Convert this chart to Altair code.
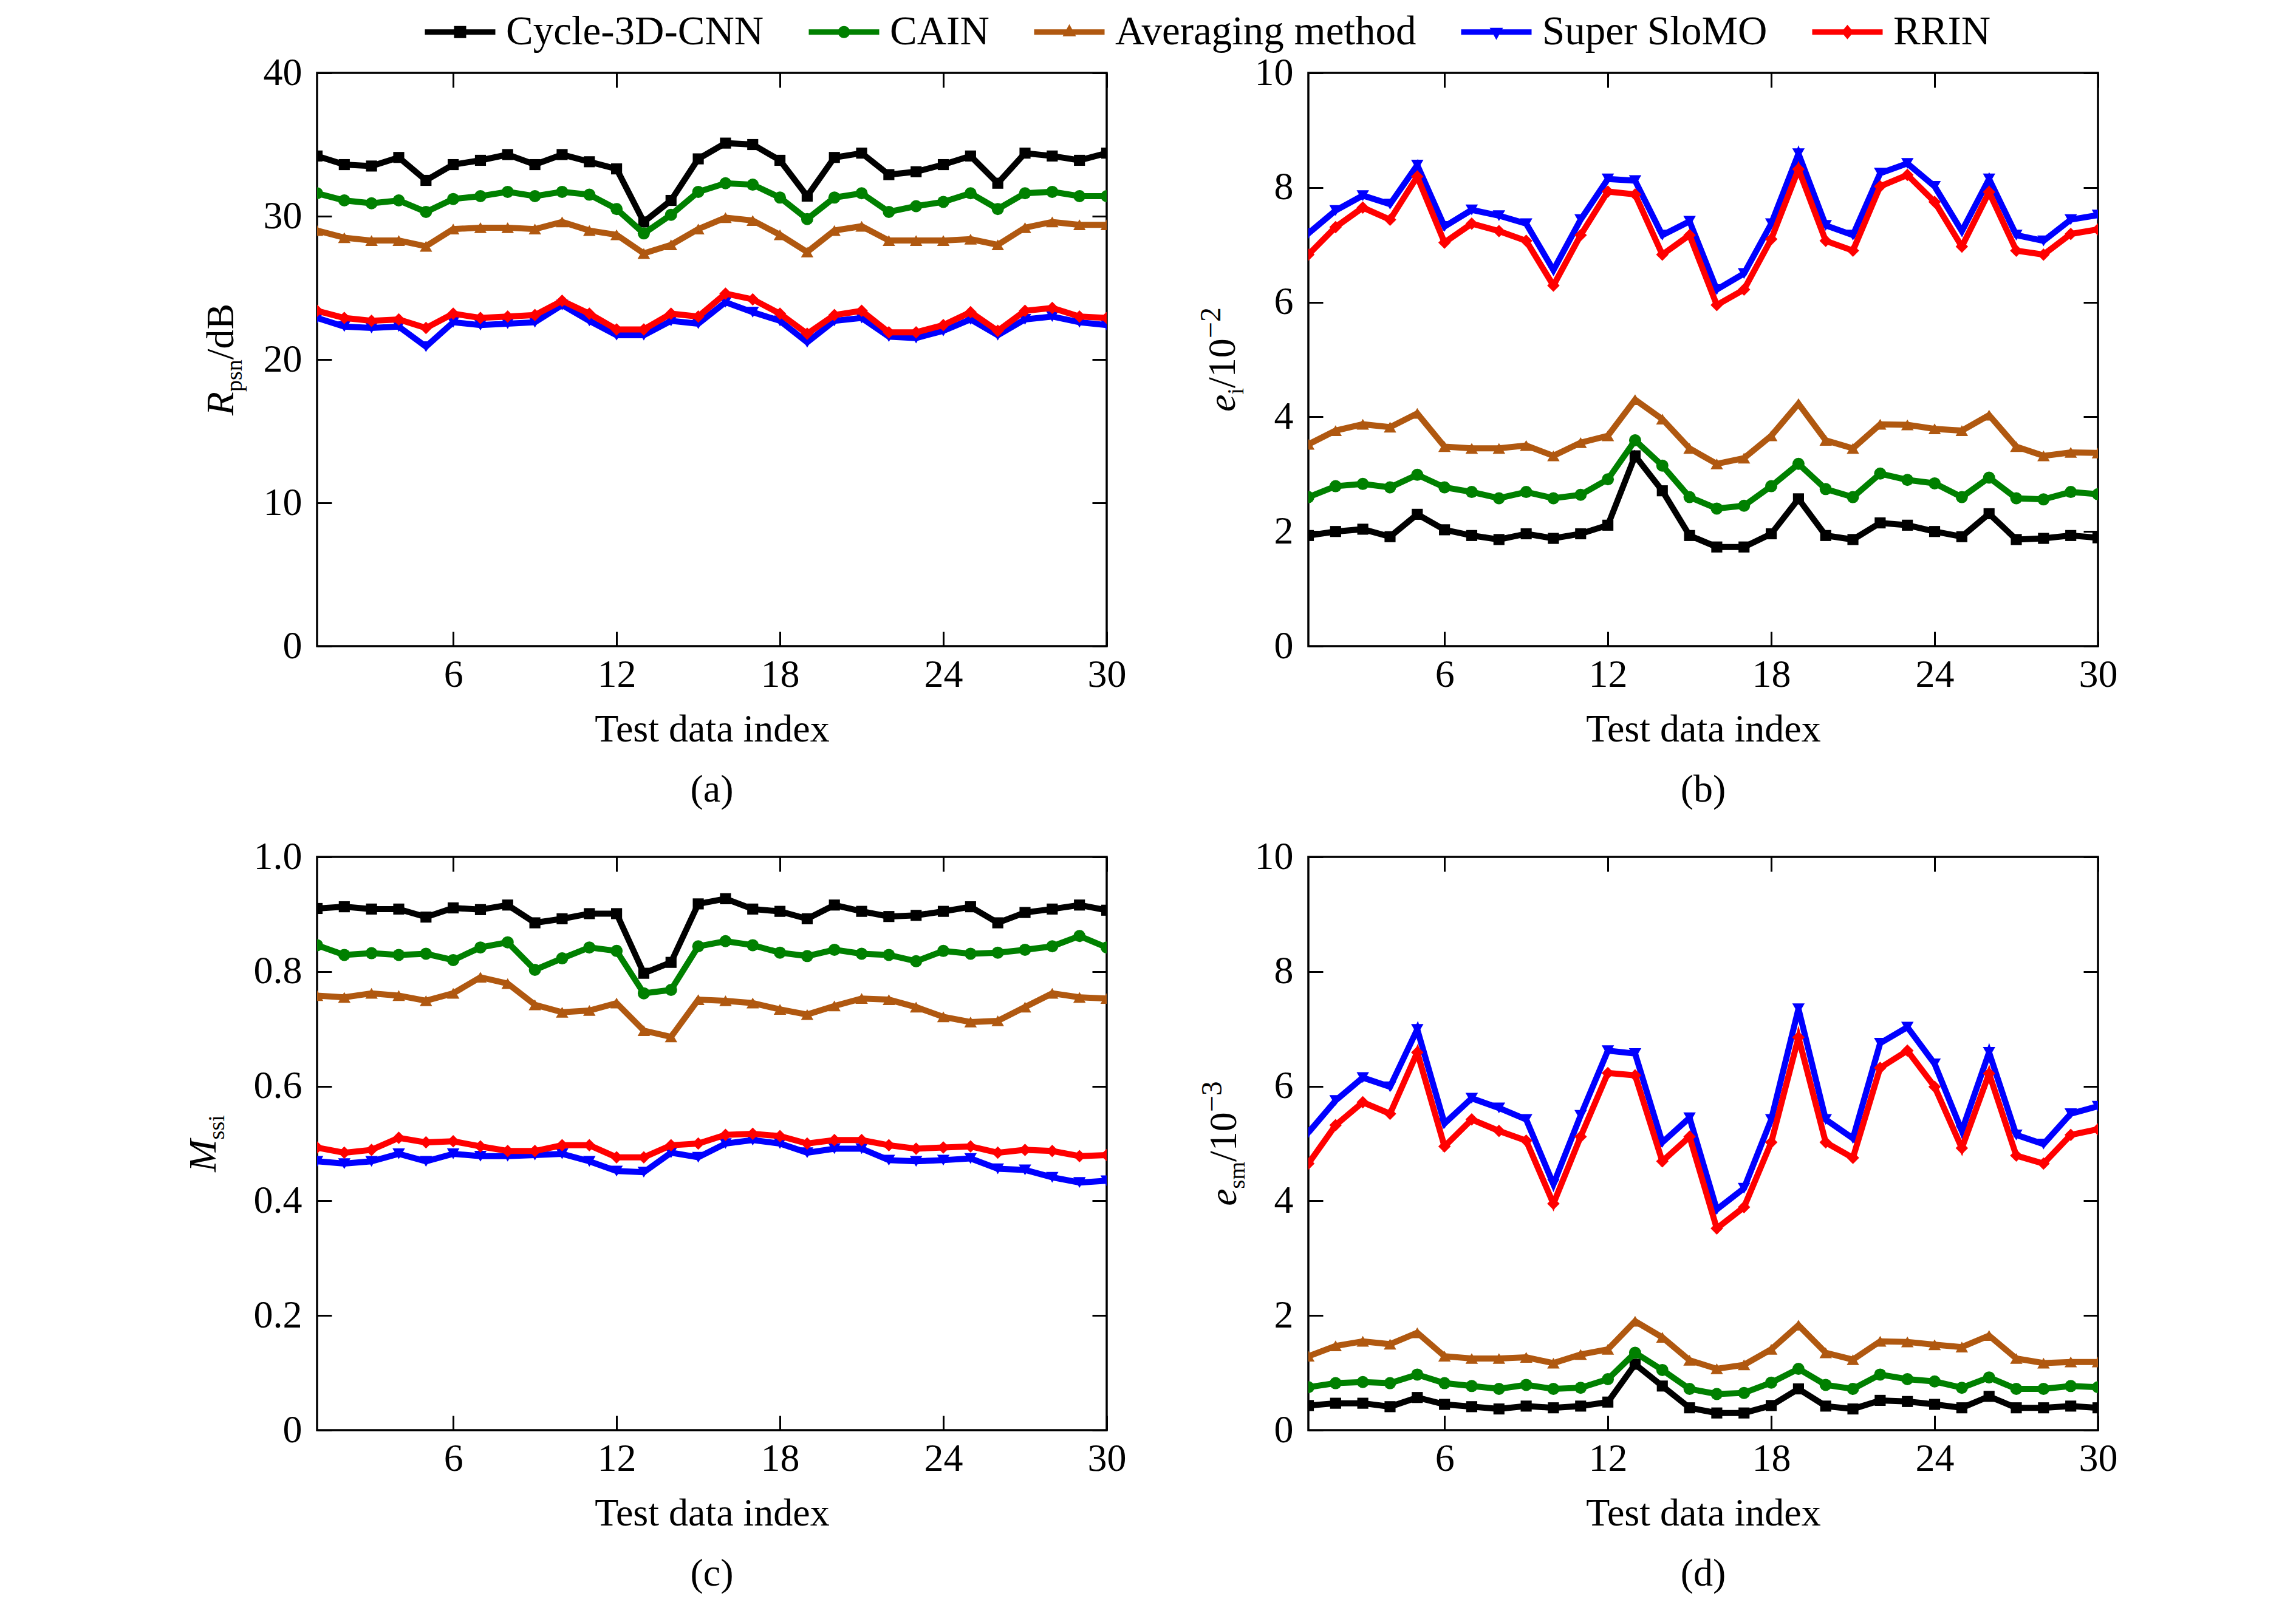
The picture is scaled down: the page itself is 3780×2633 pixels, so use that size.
import altair as alt
import pandas as pd

FONT = "Liberation Serif"
idx = list(range(1, 31))
methods = ["Cycle-3D-CNN", "CAIN", "Averaging method", "Super SloMO", "RRIN"]
colors = ["#000000", "#008000", "#b05810", "#0000ff", "#ff0000"]
shapes = ["square", "circle", "triangle-up", "triangle-down", "diamond"]
msizes = [330, 400, 420, 420, 420]
xticks = [6, 12, 18, 24, 30]

# (a) R_psn / dB
a_cycle = [34.2, 33.6, 33.5, 34.1, 32.5, 33.6, 33.9, 34.3, 33.6, 34.3, 33.8, 33.3, 29.6, 31.1, 34.0,
           35.1, 35.0, 33.9, 31.4, 34.1, 34.4, 32.9, 33.1, 33.6, 34.2, 32.3, 34.4, 34.2, 33.9, 34.4]
a_cain = [31.6, 31.1, 30.9, 31.1, 30.3, 31.2, 31.4, 31.7, 31.4, 31.7, 31.5, 30.5, 28.8, 30.1, 31.7,
          32.3, 32.2, 31.3, 29.8, 31.3, 31.6, 30.3, 30.7, 31.0, 31.6, 30.5, 31.6, 31.7, 31.4, 31.4]
a_avg = [29.0, 28.5, 28.3, 28.3, 27.9, 29.1, 29.2, 29.2, 29.1, 29.6, 29.0, 28.7, 27.4, 28.0, 29.1,
         29.9, 29.7, 28.7, 27.5, 29.0, 29.3, 28.3, 28.3, 28.3, 28.4, 28.0, 29.2, 29.6, 29.4, 29.4]
a_slomo = [22.9, 22.3, 22.2, 22.3, 20.9, 22.6, 22.4, 22.5, 22.6, 23.8, 22.7, 21.7, 21.7, 22.7, 22.5,
           24.0, 23.3, 22.7, 21.2, 22.7, 22.9, 21.6, 21.5, 22.0, 22.8, 21.7, 22.8, 23.0, 22.6, 22.4]
a_rrin = [23.4, 22.9, 22.7, 22.8, 22.2, 23.2, 22.9, 23.0, 23.1, 24.1, 23.2, 22.1, 22.1, 23.2, 23.0,
          24.6, 24.2, 23.2, 21.8, 23.1, 23.4, 21.9, 21.9, 22.4, 23.3, 22.0, 23.4, 23.6, 23.0, 22.9]

# (b) e_i / 10^-2
b_cycle = [1.93, 2.00, 2.04, 1.91, 2.30, 2.03, 1.93, 1.86, 1.96, 1.88, 1.96, 2.11, 3.32, 2.71, 1.93,
           1.73, 1.73, 1.96, 2.57, 1.93, 1.86, 2.15, 2.11, 2.00, 1.91, 2.31, 1.86, 1.88, 1.93, 1.89]
b_cain = [2.60, 2.79, 2.83, 2.77, 2.99, 2.77, 2.69, 2.58, 2.69, 2.58, 2.64, 2.91, 3.59, 3.15, 2.60,
          2.40, 2.45, 2.79, 3.18, 2.74, 2.60, 3.01, 2.90, 2.84, 2.60, 2.94, 2.58, 2.56, 2.69, 2.65]
b_avg = [3.52, 3.76, 3.87, 3.82, 4.06, 3.48, 3.45, 3.45, 3.50, 3.32, 3.55, 3.67, 4.30, 3.96, 3.45,
         3.18, 3.28, 3.67, 4.23, 3.59, 3.45, 3.87, 3.86, 3.79, 3.76, 4.03, 3.48, 3.32, 3.38, 3.37]
b_slomo = [7.20, 7.60, 7.86, 7.71, 8.39, 7.32, 7.61, 7.51, 7.37, 6.56, 7.44, 8.15, 8.12, 7.17, 7.41,
           6.22, 6.50, 7.37, 8.59, 7.34, 7.17, 8.25, 8.42, 8.02, 7.24, 8.15, 7.17, 7.07, 7.44, 7.52]
b_rrin = [6.83, 7.31, 7.65, 7.44, 8.19, 7.04, 7.37, 7.24, 7.07, 6.29, 7.17, 7.93, 7.88, 6.83, 7.17,
          5.95, 6.22, 7.10, 8.32, 7.07, 6.90, 8.02, 8.22, 7.75, 6.97, 7.92, 6.90, 6.83, 7.19, 7.27]

# (c) M_ssi
c_cycle = [0.910, 0.913, 0.909, 0.909, 0.895, 0.911, 0.908, 0.916, 0.885, 0.892, 0.901, 0.901, 0.797, 0.816, 0.918,
           0.927, 0.909, 0.905, 0.892, 0.916, 0.905, 0.896, 0.898, 0.905, 0.913, 0.885, 0.903, 0.909, 0.916, 0.907]
c_cain = [0.846, 0.829, 0.832, 0.829, 0.831, 0.820, 0.842, 0.851, 0.803, 0.823, 0.842, 0.836, 0.762, 0.768, 0.844,
          0.853, 0.846, 0.833, 0.827, 0.838, 0.831, 0.829, 0.818, 0.836, 0.831, 0.833, 0.838, 0.844, 0.862, 0.842]
c_avg = [0.758, 0.755, 0.762, 0.758, 0.749, 0.762, 0.790, 0.779, 0.742, 0.729, 0.732, 0.745, 0.697, 0.686, 0.751,
         0.749, 0.745, 0.734, 0.725, 0.740, 0.753, 0.751, 0.738, 0.721, 0.712, 0.714, 0.738, 0.762, 0.755, 0.753]
c_slomo = [0.469, 0.465, 0.469, 0.482, 0.469, 0.482, 0.478, 0.478, 0.480, 0.482, 0.469, 0.452, 0.450, 0.484, 0.476,
           0.500, 0.506, 0.500, 0.484, 0.491, 0.491, 0.471, 0.469, 0.471, 0.474, 0.456, 0.454, 0.441, 0.432, 0.435]
c_rrin = [0.493, 0.484, 0.489, 0.510, 0.502, 0.504, 0.495, 0.487, 0.487, 0.497, 0.497, 0.476, 0.476, 0.497, 0.500,
          0.515, 0.517, 0.513, 0.500, 0.506, 0.506, 0.497, 0.491, 0.493, 0.495, 0.484, 0.489, 0.487, 0.478, 0.480]

# (d) e_sm / 10^-3
d_cycle = [0.43, 0.47, 0.47, 0.41, 0.57, 0.45, 0.41, 0.37, 0.42, 0.39, 0.42, 0.49, 1.15, 0.77, 0.39,
           0.30, 0.30, 0.43, 0.72, 0.42, 0.37, 0.52, 0.50, 0.45, 0.39, 0.59, 0.39, 0.39, 0.42, 0.39]
d_cain = [0.75, 0.82, 0.84, 0.82, 0.97, 0.82, 0.77, 0.72, 0.79, 0.72, 0.74, 0.89, 1.35, 1.05, 0.72,
          0.63, 0.65, 0.83, 1.07, 0.79, 0.72, 0.97, 0.89, 0.85, 0.74, 0.92, 0.72, 0.72, 0.77, 0.75]
d_avg = [1.29, 1.47, 1.55, 1.50, 1.70, 1.29, 1.25, 1.25, 1.27, 1.17, 1.32, 1.41, 1.90, 1.62, 1.22,
         1.07, 1.14, 1.41, 1.83, 1.35, 1.23, 1.55, 1.54, 1.49, 1.45, 1.65, 1.25, 1.17, 1.19, 1.19]
d_slomo = [5.19, 5.75, 6.15, 5.99, 6.99, 5.35, 5.79, 5.62, 5.42, 4.29, 5.49, 6.62, 6.57, 5.02, 5.45,
           3.85, 4.22, 5.42, 7.35, 5.42, 5.09, 6.75, 7.03, 6.39, 5.22, 6.59, 5.15, 4.99, 5.52, 5.65]
d_rrin = [4.65, 5.32, 5.72, 5.52, 6.59, 4.95, 5.42, 5.22, 5.05, 3.95, 5.12, 6.23, 6.19, 4.69, 5.12,
          3.52, 3.89, 5.02, 6.85, 5.02, 4.75, 6.32, 6.62, 5.99, 4.92, 6.22, 4.79, 4.65, 5.15, 5.25]

W, H = 1300, 944

# legend symbols: a short line with the marker on it (unit = 20 px, drawn to the right)
BAR = "M-1,-0.225H4.8V0.225H-1Z"
legend_paths = [
    "M-1,-0.225H1.4V-0.5H2.4V-0.225H4.8V0.225H2.4V0.5H1.4V0.225H-1Z",
    BAR + " M2.4,0A0.5,0.5 0 1,1 1.4,0A0.5,0.5 0 1,1 2.4,0Z",
    BAR + " M1.9,-0.65L2.45,0.35H1.35Z",
    BAR + " M1.9,0.65L1.35,-0.35H2.45Z",
    BAR + " M1.9,-0.6L2.4,0L1.9,0.6L1.4,0Z",
]

# approximate Times advance widths (em)
WID = {"R": 0.611, "M": 0.833, "e": 0.444, "p": 0.5, "s": 0.389, "n": 0.5, "i": 0.278,
       "m": 0.778, "d": 0.5, "B": 0.667, "/": 0.278, "1": 0.5, "0": 0.5, "2": 0.5, "3": 0.5,
       "\u2212": 0.564}


def tw(text, size):
    return sum(WID.get(ch, 0.5) for ch in text) * size


def ytitle(pieces, bx, cy):
    total = sum(tw(t, s) for t, s, it, sh in pieces)
    y = cy + total / 2
    out = []
    for t, s, it, sh in pieces:
        out.append(
            alt.Chart(pd.DataFrame({"t": [t]}))
            .mark_text(angle=270, align="left", baseline="alphabetic", font=FONT, fontSize=s,
                       fontStyle="italic" if it else "normal", color="black")
            .encode(x=alt.value(bx + sh), y=alt.value(y), text="t:N")
        )
        y -= tw(t, s)
    return out


def tick_axis(orient, values, **kw):
    base = dict(orient=orient, values=values, offset=-24, tickSize=24, tickWidth=3,
                tickColor="black", domain=False, grid=False, labelFont=FONT, labelFontSize=64,
                labelColor="black", labelOverlap=False, labelFlush=False)
    base.update(kw)
    return alt.Axis(**base)


leg = alt.Legend(orient="none", legendX=164, legendY=-101, direction="horizontal", title=None,
                 labelFont=FONT, labelFontSize=67, labelColor="black", labelLimit=3000,
                 symbolSize=1600, symbolStrokeWidth=0, symbolOpacity=1, columnPadding=60,
                 labelOffset=80, padding=0)


def panel(series, ydom, yvals, yexpr, pieces, bx, caption, with_legend=False):
    xs = alt.Scale(domain=[1, 30], nice=False, zero=False)
    ys = alt.Scale(domain=ydom, nice=False, zero=False)
    df0 = pd.DataFrame({"idx": idx, "v": series[0]})
    ax_main = alt.Chart(df0).mark_point(opacity=0).encode(
        x=alt.X("idx:Q", scale=xs, axis=tick_axis(
            "bottom", xticks, labelPadding=15, title="Test data index", titleFont=FONT,
            titleFontSize=64, titleFontWeight="normal", titleColor="black", titlePadding=26)),
        y=alt.Y("v:Q", scale=ys, axis=tick_axis("left", yvals, labelPadding=25, labelExpr=yexpr,
                                                 title=None)),
    )
    ax_mirror = alt.Chart(df0).mark_point(opacity=0).encode(
        x=alt.X("idx:Q", scale=xs, axis=tick_axis("top", xticks, labels=False, title=None)),
        y=alt.Y("v:Q", scale=ys, axis=tick_axis("right", yvals, labels=False, title=None)),
    )
    layers = [ax_main, ax_mirror]
    for k in range(5):
        df = pd.DataFrame({"idx": idx, "v": series[k]})
        base = alt.Chart(df).encode(
            x=alt.X("idx:Q", scale=xs, axis=None),
            y=alt.Y("v:Q", scale=ys, axis=None),
        )
        layers.append(base.mark_line(color=colors[k], strokeWidth=10, clip=True))
        layers.append(base.mark_point(shape=shapes[k], size=msizes[k], filled=True,
                                      color=colors[k], opacity=1, strokeWidth=0, clip=True))
    layers += ytitle(pieces, bx, H / 2)
    layers.append(
        alt.Chart(pd.DataFrame({"t": [caption]}))
        .mark_text(align="center", baseline="alphabetic", font=FONT, fontSize=64, color="black")
        .encode(x=alt.value(W / 2), y=alt.value(H + 256), text="t:N")
    )
    if with_legend:
        layers.append(
            alt.Chart(pd.DataFrame({"method": methods}))
            .transform_filter("false")
            .mark_point(filled=True, opacity=1)
            .encode(
                fill=alt.Fill("method:N", scale=alt.Scale(domain=methods, range=colors), legend=leg),
                shape=alt.Shape("method:N", scale=alt.Scale(domain=methods, range=legend_paths),
                                legend=leg),
            )
        )
    return (alt.layer(*layers)
            .resolve_axis(x="independent", y="independent")
            .properties(width=W, height=H))


int_fmt = "format(datum.value, 'd')"
dec_fmt = "datum.value == 0 ? '0' : format(datum.value, '.1f')"

pa = panel([a_cycle, a_cain, a_avg, a_slomo, a_rrin], [0, 40], [0, 10, 20, 30, 40], int_fmt,
           [("R", 64, True, 0), ("psn", 38, False, 14), ("/dB", 64, False, 0)], -138, "(a)",
           with_legend=True)
pb = panel([b_cycle, b_cain, b_avg, b_slomo, b_rrin], [0, 10], [0, 2, 4, 6, 8, 10], int_fmt,
           [("e", 64, True, 0), ("i", 38, False, 14), ("/10", 64, False, 0), ("\u22122", 48, False, -24)],
           -121, "(b)")
pc = panel([c_cycle, c_cain, c_avg, c_slomo, c_rrin], [0, 1], [0, 0.2, 0.4, 0.6, 0.8, 1.0], dec_fmt,
           [("M", 64, True, 0), ("ssi", 38, False, 14)], -167, "(c)")
pdd = panel([d_cycle, d_cain, d_avg, d_slomo, d_rrin], [0, 10], [0, 2, 4, 6, 8, 10], int_fmt,
            [("e", 64, True, 0), ("sm", 38, False, 14), ("/10", 64, False, 0), ("\u22123", 48, False, -24)],
            -119, "(d)")

chart = (
    alt.concat(pa, pb, pc, pdd, columns=2, spacing={"row": 347, "column": 332}, bounds="flush")
    .properties(padding={"left": 294, "top": 11, "right": 0, "bottom": 0})
    .configure(background="white")
    .configure_view(stroke="black", strokeWidth=3.5)
)

chart.save("out.html", embed_options={"renderer": "svg", "actions": False})
